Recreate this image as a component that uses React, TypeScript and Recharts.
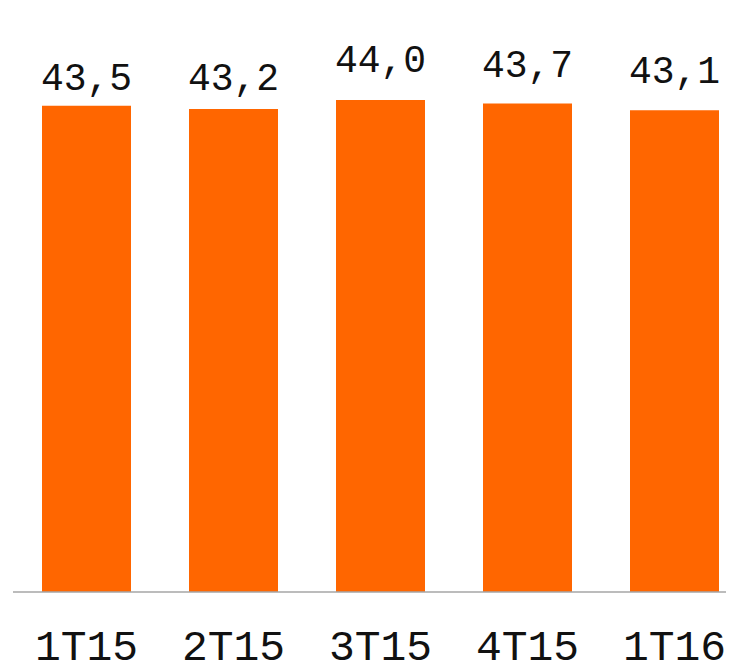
import React from "react";
import { BarChart, Bar, XAxis, YAxis, LabelList } from "recharts";

const quarters = ["1T15", "2T15", "3T15", "4T15", "1T16"];
const values = [43.5, 43.2, 44.0, 43.7, 43.1];

// extra lift of each value label above its bar (the source placed them unevenly)
const labelLift = [16, 19, 28, 26, 27];

const data = quarters.map((q, i) => ({ q, v: values[i] }));

const FONT = "'Liberation Mono', 'DejaVu Sans Mono', monospace";

const fmt = (v: number) => v.toFixed(1).replace(".", ",");

function ValueLabel(props: any) {
  const { x, y, width, value, index } = props;
  return (
    <text
      x={x + width / 2}
      y={y - labelLift[index]}
      textAnchor="middle"
      fontFamily={FONT}
      fontSize={38}
      fill="#111"
    >
      {fmt(value)}
    </text>
  );
}

function QuarterTick(props: any) {
  const { x, y, payload } = props;
  return (
    <text x={x} y={y + 60} textAnchor="middle" fontFamily={FONT} fontSize={43} fill="#111">
      {payload.value}
    </text>
  );
}

export default function App() {
  return (
    <div style={{ width: 726, height: 653, overflow: "hidden" }}>
      <BarChart
        width={740}
        height={674}
        data={data}
        margin={{ top: 25, right: 0, bottom: 0, left: 5 }}
        barCategoryGap={29}
      >
        <XAxis
          dataKey="q"
          height={90}
          tickLine={false}
          axisLine={{ stroke: "#a6a6a6", strokeWidth: 1.5 }}
          tick={<QuarterTick />}
          interval={0}
        />
        <YAxis hide domain={[0, 50]} />
        <Bar dataKey="v" fill="#ff6600" isAnimationActive={false}>
          <LabelList dataKey="v" content={<ValueLabel />} />
        </Bar>
      </BarChart>
    </div>
  );
}
